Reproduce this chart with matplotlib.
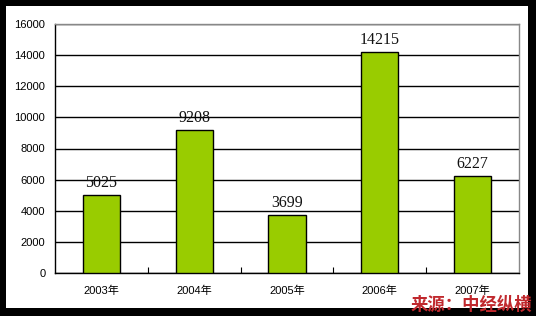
import matplotlib.pyplot as plt
from matplotlib.patches import Rectangle

# data
years = ['2003年', '2004年', '2005年', '2006年', '2007年']
values = [5025, 9208, 3699, 14215, 6227]
yticks = [0, 2000, 4000, 6000, 8000, 10000, 12000, 14000, 16000]

fig = plt.figure(figsize=(5.36, 3.16), dpi=100)
fig.patch.set_facecolor('black')
# white inner panel (black frame around)
fig.patches.append(Rectangle((6/536, 8/316), 522/536, 302/316,
                             transform=fig.transFigure, facecolor='white',
                             edgecolor='none', zorder=-5))

ax = fig.add_axes([55/536, 1 - 273/316, 464/536, 249/316])
ax.set_facecolor('white')

x = range(len(years))
ax.bar(x, values, width=0.4, color='#99CC00', edgecolor='black', linewidth=1, zorder=3)

for xi, v in zip(x, values):
    ax.annotate(str(v), (xi, v), xytext=(0, 3), textcoords='offset points',
                ha='center', va='bottom', fontsize=11.5,
                family='Liberation Serif', color='#111111')

ax.set_xlim(-0.5, len(years) - 0.5)
ax.set_ylim(0, 16000)
ax.set_yticks(yticks)
ax.set_yticklabels([str(t) for t in yticks], fontsize=8, family='Liberation Sans')
ax.yaxis.grid(True, color='black', linewidth=1, zorder=1)
ax.set_axisbelow(True)
ax.tick_params(axis='y', length=0, pad=7)

# category ticks on boundaries, labels centered
ax.set_xticks([i + 0.5 for i in range(len(years) - 1)])
ax.set_xticklabels([])
ax.set_xticks(list(x), minor=True)
ax.set_xticklabels(years, minor=True, fontsize=8,
                   family=['Liberation Sans', 'Noto Sans CJK SC'])
ax.tick_params(axis='x', which='major', direction='in', length=4, color='black')
ax.tick_params(axis='x', which='minor', length=0, pad=9)

for s in ['left', 'bottom']:
    ax.spines[s].set_color('black')
    ax.spines[s].set_linewidth(1)
for s in ['top', 'right']:
    ax.spines[s].set_color('#888888')
    ax.spines[s].set_linewidth(1)

fig.text(471/536, 1 - 305/316, '来源：中经纵横', ha='center', va='center',
         fontsize=12.5, fontweight='bold', color='#C0282D',
         family=['Noto Sans CJK SC', 'DejaVu Sans'])

fig.savefig('out.png', dpi=100, facecolor=fig.get_facecolor())
